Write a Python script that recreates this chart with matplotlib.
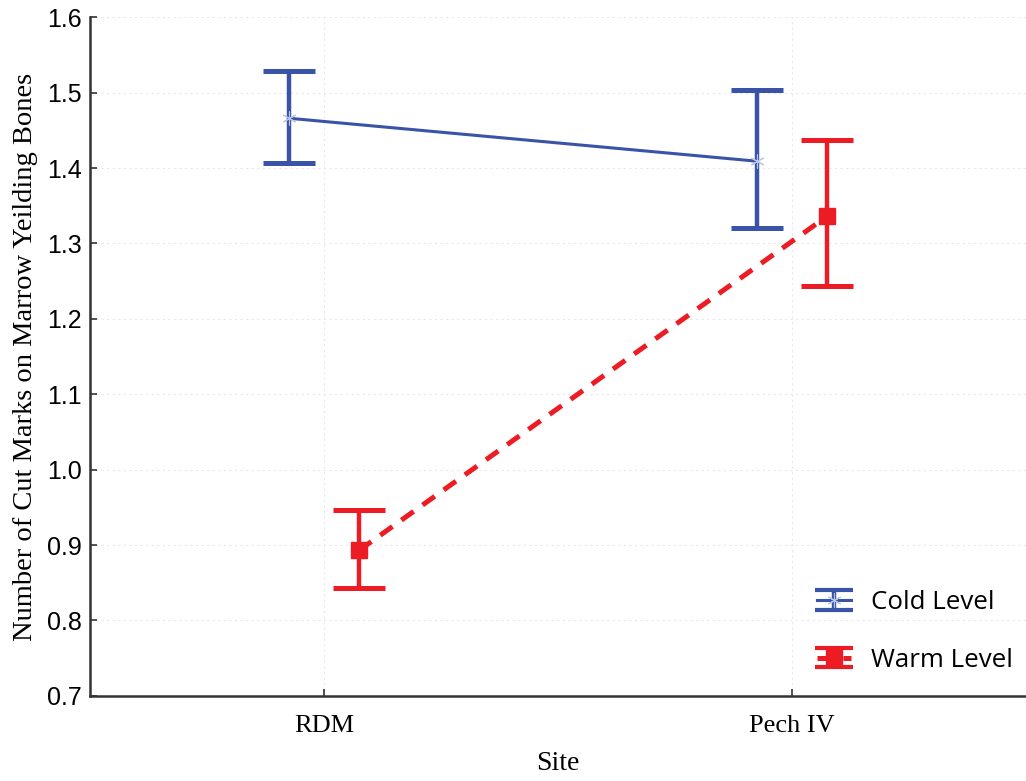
import matplotlib
matplotlib.use("Agg")
import matplotlib.pyplot as plt
from matplotlib.legend_handler import HandlerErrorbar
from matplotlib.lines import Line2D
import numpy as np

sites = ["RDM", "Pech IV"]

cold_mean = [1.466, 1.409]
cold_low = [1.406, 1.320]
cold_high = [1.529, 1.503]

warm_mean = [0.893, 1.336]
warm_low = [0.843, 1.243]
warm_high = [0.947, 1.437]

yticks = [0.7, 0.8, 0.9, 1.0, 1.1, 1.2, 1.3, 1.4, 1.5, 1.6]

BLUE = "#3953a7"
RED = "#ed1c24"


class CompactErrorbarHandler(HandlerErrorbar):
    """Errorbar legend key with shorter caps."""

    def create_artists(self, *args, **kwargs):
        artists = super().create_artists(*args, **kwargs)
        for a in artists:
            if isinstance(a, Line2D) and a.get_marker() in ("_", "|"):
                a.set_markersize(27)
                a.set_markeredgewidth(3.0)
        return artists


fig = plt.figure(figsize=(10.26, 7.81), dpi=100)
ax = fig.add_axes([0.0877, 0.109, 0.9123, 0.869])

x = np.arange(len(sites))
offset = 0.075

def err(mean, low, high):
    mean = np.asarray(mean)
    return [mean - np.asarray(low), np.asarray(high) - mean]

cold = ax.errorbar(x - offset, cold_mean, yerr=err(cold_mean, cold_low, cold_high),
                   color=BLUE, lw=2.2, elinewidth=3.2, capsize=19, capthick=3.6,
                   marker=(6, 2, 0), markersize=10, markeredgewidth=0.8,
                   markeredgecolor="#b8c4e4", label="Cold Level", zorder=3)
for cap in cold[1]:
    cap.set_markeredgewidth(3.6)
    cap.set_markeredgecolor(BLUE)
for bar in cold[2]:
    bar.set_linewidth(3.2)

warm = ax.errorbar(x + offset, warm_mean, yerr=err(warm_mean, warm_low, warm_high),
                   color=RED, lw=3.6, ls=(0, (3, 2.2)), elinewidth=3.2, capsize=19,
                   capthick=3.6, marker="s", markersize=11, label="Warm Level", zorder=3)

ax.set_xlim(-0.5, 1.5)
ax.set_ylim(0.7, 1.6)
ax.set_xticks(x)
ax.set_xticklabels(sites, fontfamily="Liberation Serif", fontsize=19)
ax.set_yticks(yticks)
ax.set_yticklabels([f"{v:.1f}" for v in yticks], fontfamily="Liberation Sans", fontsize=18)
ax.tick_params(direction="in", length=5, width=1.2, color="#333333")
ax.tick_params(axis="x", pad=14)
ax.tick_params(axis="y", pad=6)

ax.grid(True, ls=(0, (2, 3)), color="#e8e8ec", lw=0.8)
ax.set_axisbelow(True)
for s in ["top", "right"]:
    ax.spines[s].set_visible(False)
for s in ["left", "bottom"]:
    ax.spines[s].set_linewidth(1.8)
    ax.spines[s].set_color("#333333")

ax.set_xlabel("Site", fontfamily="Liberation Serif", fontsize=20, labelpad=10)
ax.set_ylabel("Number of Cut Marks on Marrow Yeilding Bones",
              fontfamily="Liberation Serif", fontsize=20.5, labelpad=6)

handler = CompactErrorbarHandler(yerr_size=0.38)
leg = ax.legend(handles=[cold, warm], loc="lower right", frameon=False,
                prop={"family": "Open Sans", "size": 18.6}, handlelength=1.3,
                labelspacing=1.25, handletextpad=0.8, bbox_to_anchor=(1.011, 0.0),
                handler_map={cold: handler, warm: handler})

fig.savefig("out.png", dpi=100)
